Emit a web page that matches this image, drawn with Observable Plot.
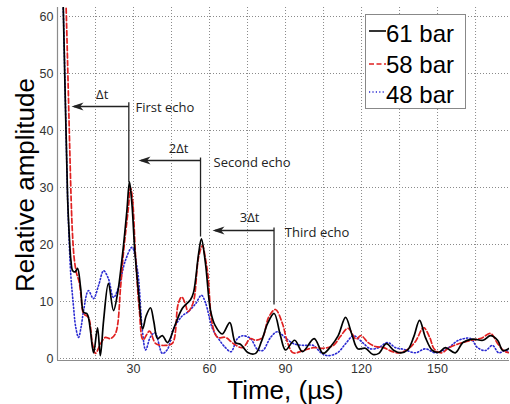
<!DOCTYPE html>
<html><head><meta charset="utf-8">
<script src="https://cdn.jsdelivr.net/npm/d3@7"></script>
<script src="https://cdn.jsdelivr.net/npm/@observablehq/plot@0.6"></script>
<style>
body{margin:0;background:#fff;}
#wrap{position:relative;width:510px;height:404px;overflow:hidden;}
#legend{position:absolute;left:365px;top:14px;width:101px;height:95px;border:1px solid #888;background:#fff;box-sizing:border-box;font-family:"Liberation Sans",Arial,sans-serif;}
#legend .row{position:absolute;left:0;height:30px;}
#legend .lbl{position:absolute;left:20px;font-size:24px;line-height:24px;color:#000;white-space:nowrap;}
#legend svg{position:absolute;left:2px;}
</style></head><body><div id="wrap"></div>
<script>
// ---- data (time in µs, relative amplitude) ----
const seriesNames = ["61 bar", "58 bar", "48 bar"];
const seriesColors = ["#000000", "#e02020", "#2a2ad2"];
const seriesDash = [null, "5,2.5", "1.2,2.2"];

const bar61 = [[1.8,68],[2.3,61],[4.0,28],[4.6,22],[5.3,17.2],[6.0,15.4],[7.0,15.2],[7.9,15.8],[9.1,12.5],[10.3,8.1],[11.5,7.9],[12.1,7.4],[13.0,4.9],[13.8,1.9],[14.3,1.0],[15.8,5.4],[16.9,0.5],[18.2,6.7],[20.1,13.2],[22.1,8.4],[23.7,11.4],[25.7,18.4],[27.4,26],[28.4,31.0],[29.4,27],[30.5,19],[32.0,11.5],[33.6,5.2],[35.0,7.5],[36.7,8.9],[38.0,6.5],[39.5,3.5],[41.4,4.0],[43.4,2.8],[46.6,6.1],[49.3,8.8],[52.5,10.3],[53.7,11.6],[55.7,18.4],[56.8,21.0],[58.4,16.7],[60.4,8.4],[62.2,5.8],[65.0,4.3],[68.0,6.3],[70.2,2.8],[72.2,2.5],[75.3,1.0],[78.2,0.9],[80.5,3.0],[82.9,6.1],[85.5,7.9],[88.0,4.0],[90.0,1.5],[93.6,3.2],[96.7,1.2],[101.3,3.5],[104.8,0.9],[108.0,2.2],[110.8,4.0],[113.7,7.2],[116.2,4.2],[118.5,1.7],[121.5,1.8],[124.5,0.7],[126.8,0.9],[129.8,2.6],[132.8,1.4],[135.5,1.0],[138.2,1.5],[140.6,3.8],[142.9,6.7],[145.2,3.7],[148.0,1.4],[150.5,1.1],[153.1,1.9],[157.0,1.0],[160.0,2.8],[163.8,3.4],[168.0,3.2],[170.9,4.0],[173.7,3.2],[175.8,1.4],[178.4,1.8]];

const bar58 = [[2.9,68],[3.4,61.6],[5.4,27.7],[5.9,22],[6.6,17.5],[7.5,15.0],[8.5,13.5],[9.3,11],[10.3,7.9],[12.2,7.2],[13.8,2.6],[15.0,0.9],[17.0,2.6],[18.9,3.7],[20.9,3.5],[22.9,4.4],[24.9,12.5],[26.0,18.4],[28.0,26.5],[28.8,30.0],[29.6,28],[30.8,18],[32.3,8.5],[33.8,3.3],[36.3,4.8],[38.8,2.6],[42.6,2.3],[45.4,2.7],[47.6,9.5],[49.0,10.8],[50.5,9.5],[51.5,8.2],[52.7,8.9],[53.9,10.4],[55.7,17.8],[57.2,19.8],[58.4,17.5],[59.4,14.5],[61.2,5.8],[63.2,3.7],[66.3,3.7],[69.5,2.6],[73.0,1.9],[76.2,3.5],[78.2,3.2],[80.9,3.7],[83.3,7.2],[86.0,8.6],[88.8,6.1],[90.8,2.8],[93.0,1.0],[97.1,1.4],[101.0,1.9],[105.0,1.8],[108.9,2.3],[111.7,3.9],[114.7,5.3],[117.8,3.4],[119.8,4.0],[122.6,2.8],[125.5,2.1],[128.7,1.9],[132.2,1.2],[134.8,1.0],[138.2,1.6],[141.3,3.0],[144.5,5.4],[146.8,3.8],[148.8,1.6],[151.6,1.0],[154.5,1.9],[157.8,2.5],[161.5,3.0],[164.5,3.3],[167.5,3.6],[170.9,4.4],[173.9,2.5],[176.3,1.3],[178.4,1.0]];

const bar48 = [[1.8,68],[2.3,61],[4.0,28],[4.3,24.2],[5.2,15],[6.2,9.7],[7.2,5.5],[8.3,3.7],[9.3,5.5],[10.3,8.4],[12.2,11.9],[14.2,10.5],[16.2,12.8],[18.2,15.4],[20.1,14.0],[22.1,10.7],[24.1,12.5],[26.8,17.2],[29.4,19.5],[31.6,15.4],[33.5,4.9],[34.8,1.5],[36.7,3.8],[38.5,4.5],[41.4,0.9],[43.4,1.6],[45.8,5.2],[49.3,7.5],[51.3,8.1],[54.5,9.6],[56.8,11.1],[58.4,9.8],[61.2,5.2],[63.5,3.5],[66.3,1.9],[68.5,1.2],[71.0,3.5],[73.2,4.0],[76.2,3.5],[78.9,1.6],[81.0,1.4],[84.1,3.7],[86.8,4.7],[90.0,3.6],[93.2,2.6],[97.1,2.3],[101.0,2.3],[104.0,1.0],[106.6,0.5],[110.5,1.0],[113.7,2.6],[116.8,4.0],[120.4,2.8],[123.5,1.7],[126.7,1.9],[130.3,2.8],[133.4,1.9],[136.8,1.6],[141.3,1.0],[145.2,1.7],[149.2,1.0],[154.3,1.9],[158.3,3.2],[163.0,3.5],[165.8,1.9],[168.9,1.4],[171.7,2.3],[174.1,1.0],[176.8,1.4],[178.4,1.2]];

// axes
const xDomain = [0, 178.4];
const yDomain = [-0.35, 61.58];
const xLabelTicks = [30, 60, 90, 120, 150];
const xGridTicks = [15, 30, 45, 60, 75, 90, 105, 120, 135, 150, 165];
const yTicks = [0, 10, 20, 30, 40, 50, 60];

// annotations (data coordinates)
const deltaLabels = ["Δt", "2Δt", "3Δt"];
const echoLabels = ["First echo", "Second echo", "Third echo"];
const echoTime = [28.15, 56.45, 85.46];
const lineTop = [44.96, 35.26, 22.98];
const lineBottom = [30.93, 21.40, 9.47];
const arrowLevel = [44.21, 34.74, 22.46];
const arrowTip = [5.53, 31.97, 61.18];
const deltaLabelX = [17.64, 47.76, 75.79];
const deltaLabelY = [46.3, 36.8, 24.6];
const echoLabelX = [30.79, 61.58, 89.72];
const echoLabelY = [43.9, 34.4, 22.0];

const seriesData = [bar61, bar58, bar48];
const ann = deltaLabels.map((d, i) => ({
  delta: d, echo: echoLabels[i], t: echoTime[i], top: lineTop[i], bottom: lineBottom[i],
  ay: arrowLevel[i], tip: arrowTip[i], dx: deltaLabelX[i], dy: deltaLabelY[i], ex: echoLabelX[i], ey: echoLabelY[i]
}));

// stealth arrowhead, tip at origin, pointing left
const stealth = {
  draw(ctx, size) {
    const r = Math.sqrt(size / Math.PI);
    const L = r, W = r * 0.33;
    ctx.moveTo(0, 0);
    ctx.lineTo(L, -W);
    ctx.lineTo(L * 0.72, 0);
    ctx.lineTo(L, W);
    ctx.closePath();
  }
};

const lineMarks = seriesData.map((d, i) => Plot.line(d.map(([t, v]) => ({t, v})), {
  x: "t", y: "v", stroke: seriesColors[i], strokeWidth: i === 2 ? 1.6 : 1.7,
  strokeDasharray: seriesDash[i] || undefined, curve: "catmull-rom", clip: true
}));

const chart = Plot.plot({
  width: 510, height: 404,
  marginLeft: 57, marginRight: 1, marginTop: 7, marginBottom: 44,
  x: {domain: xDomain},
  y: {domain: yDomain},
  style: {fontFamily: "'Liberation Sans', Arial, sans-serif", background: "#fff", color: "#333"},
  marks: [
    Plot.gridX(xGridTicks, {stroke: "#8a8a8a", strokeOpacity: 1, strokeDasharray: "1,2"}),
    Plot.gridY(yTicks, {stroke: "#8a8a8a", strokeOpacity: 1, strokeDasharray: "1,2"}),
    Plot.ruleX([xDomain[0]], {stroke: "#8c8c8c", strokeWidth: 1.2}),
    Plot.ruleY([yDomain[0]], {stroke: "#8c8c8c", strokeWidth: 1.2}),
    Plot.axisX(xLabelTicks, {tickSize: 0, tickPadding: 4, fontSize: 12.5, label: null, fill: "#333"}),
    Plot.axisY(yTicks, {tickSize: 0, tickPadding: 4, fontSize: 12.5, label: null, fill: "#333"}),
    ...lineMarks.slice().reverse(),
    Plot.link(ann, {x1: "t", x2: "t", y1: "top", y2: "bottom", stroke: "#222", strokeWidth: 1.3}),
    Plot.link(ann, {x1: "t", x2: d => d.tip + 1, y1: "ay", y2: "ay", stroke: "#222", strokeWidth: 1.3}),
    Plot.dot(ann, {x: "tip", y: "ay", symbol: stealth, r: 12, fill: "#222", stroke: "none"}),
    Plot.text(ann, {x: "dx", y: "dy", text: "delta", fontFamily: "'Open Sans', sans-serif", fontSize: 13, fill: "#222"}),
    Plot.text(ann, {x: "ex", y: "ey", text: "echo", textAnchor: "start", fontFamily: "'Open Sans', sans-serif", fontSize: 13, fill: "#222"}),
    Plot.text(["Relative amplitude"], {frameAnchor: "left", textAnchor: "middle", lineAnchor: "middle", rotate: -90, dx: -32, dy: 1, fontSize: 26, fill: "#000"}),
    Plot.text(["Time, (µs)"], {frameAnchor: "bottom", textAnchor: "middle", lineAnchor: "middle", dx: 2, dy: 30.5, fontSize: 26, fill: "#000"})
  ]
});

const wrap = document.getElementById("wrap");
wrap.appendChild(chart);

// legend
const legend = document.createElement("div");
legend.id = "legend";
const rowTops = [16, 47, 77];
const sampleY = [14, 16, 14];
seriesNames.forEach((name, i) => {
  const row = document.createElement("div");
  row.className = "row";
  row.style.top = (rowTops[i] - 14) + "px";
  row.style.width = "100%";
  const s = d3.create("svg").attr("width", 18).attr("height", 30).style("top", "0px");
  s.append("line").attr("x1", 1).attr("x2", 18).attr("y1", sampleY[i]).attr("y2", sampleY[i])
    .attr("stroke", seriesColors[i]).attr("stroke-width", 1.6)
    .attr("stroke-dasharray", seriesDash[i] || null);
  row.appendChild(s.node());
  const lbl = document.createElement("div");
  lbl.className = "lbl";
  lbl.style.top = "5px";
  lbl.textContent = name;
  row.appendChild(lbl);
  legend.appendChild(row);
});
wrap.appendChild(legend);
</script></body></html>
